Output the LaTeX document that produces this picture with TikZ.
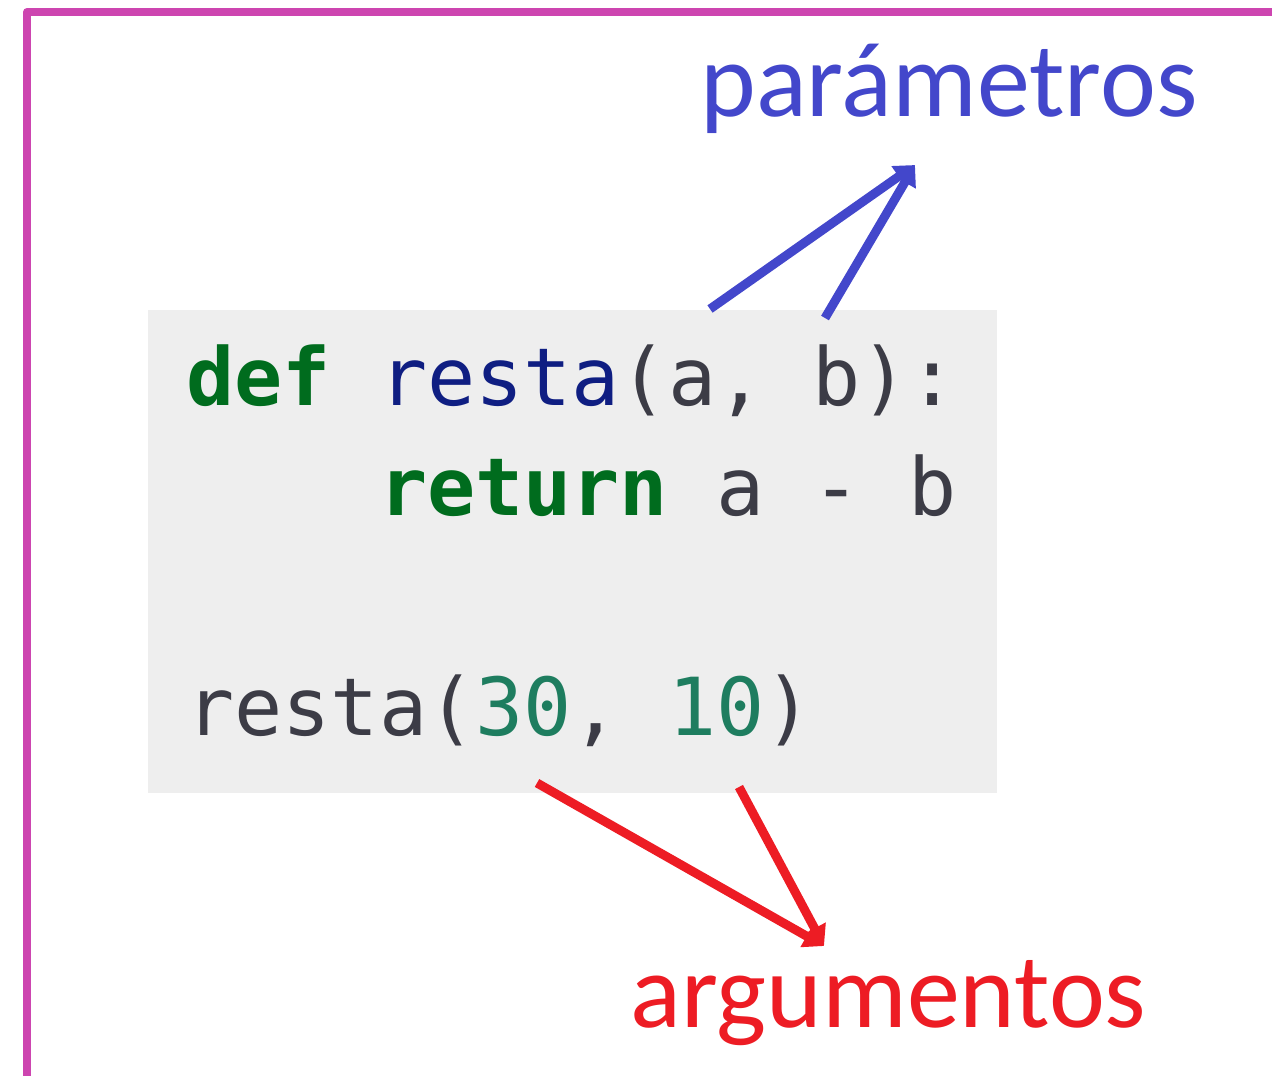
\documentclass[tikz,border=0pt]{standalone}
\usepackage{fontspec}
\setmainfont{Carlito}
\newfontfamily\codefont{DejaVu Sans Mono}
\usetikzlibrary{arrows.meta}
\definecolor{framecol}{RGB}{205,69,176}
\definecolor{codebg}{RGB}{238,238,238}
\definecolor{kw}{RGB}{0,108,30}
\definecolor{fn}{RGB}{15,30,130}
\definecolor{txt}{RGB}{60,60,70}
\definecolor{num}{RGB}{30,125,95}
\definecolor{pblue}{RGB}{67,71,203}
\definecolor{ared}{RGB}{237,28,36}
\begin{document}
\begin{tikzpicture}[x=0.5pt,y=-0.5pt,
  codeline/.style={anchor=base west,inner sep=0pt,text=txt,font=\codefont\fontsize{40pt}{40pt}\selectfont},
  lbl/.style={anchor=base west,inner sep=0pt,font=\fontsize{53pt}{53pt}\selectfont},
  parrow/.style={draw=pblue,line width=4.5pt,-{Triangle[length=10pt,width=12pt]}},
  aarrow/.style={draw=ared,line width=4.5pt,-{Triangle[length=10pt,width=12pt]}},
  codebox/.style={fill=codebg,inner sep=0pt,minimum width=424.5pt,minimum height=241.5pt,anchor=north west}]
\useasboundingbox (0,0) rectangle (1272,1075);
\draw[framecol,line width=4pt,line join=round] (27,1120) -- (27,12) -- (1320,12);
\node[codebox] (box) at (148,310) {};
\node[codeline] (l1) at (186,405) {{\color{kw}\bfseries def} {\color{fn}resta}(a, b):};
\node[codeline] (l2) at (186,515) {\phantom{0000}{\color{kw}\bfseries return} a - b};
\node[codeline] (l4) at (186,735) {resta({\color{num}30}, {\color{num}10})};
\node[lbl,text=pblue] (par) at (700,117) {parámetros};
\node[lbl,text=ared] (arg) at (630,1027) {argumentos};
\coordinate (ptip) at (915,165);
\coordinate (pa) at (710,309);
\coordinate (pb) at (825,318);
\coordinate (atip) at (824,946);
\coordinate (aa) at (537,783);
\coordinate (ab) at (739,787);
\draw[parrow] (pa) -- (ptip);
\draw[parrow] (pb) -- (ptip);
\draw[aarrow] (aa) -- (atip);
\draw[aarrow] (ab) -- (atip);
\end{tikzpicture}
\end{document}
